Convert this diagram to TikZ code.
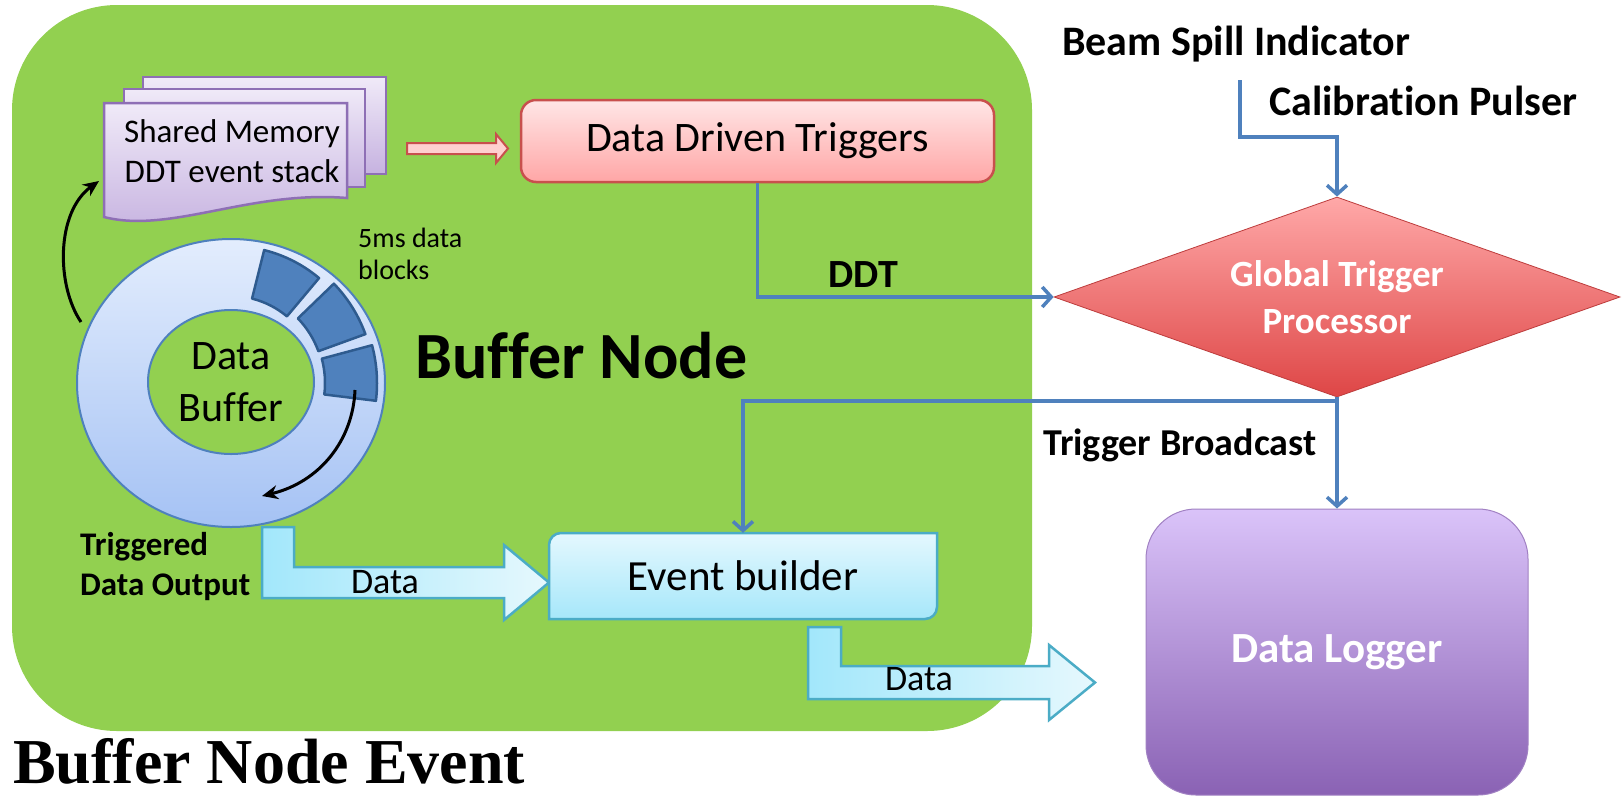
\documentclass[tikz,border=0pt]{standalone}
\usepackage{fontspec}
\setmainfont{Carlito}[Ligatures=NoCommon]
\newfontfamily\tnrfont{Liberation Serif}
\usetikzlibrary{arrows.meta,shapes.geometric}
\newcommand\fsz[2]{\fontsize{#1pt}{#2pt}\selectfont}
\definecolor{bnGreen}{HTML}{92D050}
\definecolor{smTop}{HTML}{F0EAF8}
\definecolor{smBot}{HTML}{C6B2E0}
\definecolor{smBorder}{HTML}{8E6FB5}
\definecolor{pinkFill}{HTML}{FFD0D0}
\definecolor{redBorder}{HTML}{C8504D}
\definecolor{ddtTop}{HTML}{FFE6E6}
\definecolor{ddtBot}{HTML}{FFA6A6}
\definecolor{blueLine}{HTML}{4F81BD}
\definecolor{gtpTop}{HTML}{FFA8A8}
\definecolor{gtpBot}{HTML}{DE4646}
\definecolor{ebTop}{HTML}{E4F8FE}
\definecolor{ebBot}{HTML}{A6E7FA}
\definecolor{ebBorder}{HTML}{4BACC6}
\definecolor{arL}{HTML}{A2E7FB}
\definecolor{arR}{HTML}{E6F8FD}
\definecolor{dlTop}{HTML}{DAC3F9}
\definecolor{dlBot}{HTML}{8A62B4}
\definecolor{ringTop}{HTML}{E3EDFD}
\definecolor{ringBot}{HTML}{A5C2F4}
\definecolor{blkFill}{HTML}{4F81BD}
\definecolor{blkBorder}{HTML}{2E5B8F}
\begin{document}
\begin{tikzpicture}[x=1pt,y=-1pt,
  lbl/.style={inner sep=0pt, anchor=base},
  lblw/.style={inner sep=0pt, anchor=base west},
  smpage/.style={top color=smTop, bottom color=smBot, draw=smBorder, line width=2.5pt},
  pinkarrow/.style={fill=pinkFill, draw=redBorder, line width=2pt},
  ddtbox/.style={rectangle, rounded corners=15pt, minimum width=473pt, minimum height=82pt,
    top color=ddtTop, bottom color=ddtBot, draw=redBorder, line width=2.5pt, inner sep=0pt},
  gtpbox/.style={diamond, aspect=2.83, minimum width=566pt, minimum height=200pt, inner sep=0pt,
    top color=gtpTop, bottom color=gtpBot, draw=gtpBot!85!black, line width=0.8pt,
    text=white, align=center, font=\bfseries\fsz{37}{47}},
  ebshape/.style={top color=ebTop, bottom color=ebBot, draw=ebBorder, line width=2.5pt},
  dlbox/.style={rectangle, rounded corners=50pt, minimum width=382pt, minimum height=286pt,
    top color=dlTop, bottom color=dlBot, draw=dlBot!80!white, line width=1pt,
    text=white, font=\bfseries\fsz{43}{50}},
  datarrow/.style={left color=arL, right color=arR, draw=ebBorder, line width=2.5pt},
  ringstyle/.style={ellipse, minimum width=308pt, minimum height=288pt, inner sep=0pt,
    top color=ringTop, bottom color=ringBot, draw=blueLine, line width=2pt},
  holestyle/.style={ellipse, minimum width=166pt, minimum height=144pt, inner sep=0pt,
    fill=bnGreen, draw=blueLine, line width=2pt, align=center, font=\fsz{42}{52}},
  blk/.style={fill=blkFill, draw=blkBorder, line width=2.5pt, line join=round},
  blkarrow/.style={draw=black, line width=3pt, -{Stealth[length=16pt,width=14pt]}},
  blueline/.style={draw=blueLine, line width=3.5pt, -{Straight Barb[length=9pt,width=20pt]}}
]
\useasboundingbox (0,0) rectangle (1624,796);
\fill[white] (0,0) rectangle (1624,796);

% green buffer node area
\fill[bnGreen, rounded corners=105pt] (12,5) rectangle (1032,731);

% shared memory stack
\filldraw[smpage] (143,77) rectangle (386,174);
\filldraw[smpage] (124,89) rectangle (365,187);
\filldraw[smpage] (104,217) -- (104,103) -- (347,103) -- (347,198)
  .. controls (250,190) and (170,234) .. (104,217) -- cycle;
\node[lbl] (sm1) at (232,142) {\fsz{33}{40}Shared Memory};
\node[lbl] (sm2) at (232,182) {\fsz{33}{40}DDT event stack};

% pink block arrow
\filldraw[pinkarrow] (407,143) -- (496,143) -- (496,134) -- (508,148.5) -- (496,163)
  -- (496,154) -- (407,154) -- cycle;

% Data Driven Triggers
\node[ddtbox] (ddt) at (757.5,141) {\fsz{42}{48}Data Driven Triggers};

% data buffer ring
\node[ringstyle] (ring) at (231,383) {};
\filldraw[blk] (231,383) ++(-50:87) arc[start angle=-50,end angle=-76,radius=87]
  -- ++(-76:50) arc[start angle=-76,end angle=-50,radius=137] -- cycle;
\filldraw[blk] (231,383) ++(-20:93) arc[start angle=-20,end angle=-44,radius=93]
  -- ++(-44:50) arc[start angle=-44,end angle=-20,radius=143] -- cycle;
\filldraw[blk] (231,383) ++(7:94) arc[start angle=7,end angle=-15,radius=94]
  -- ++(-15:52) arc[start angle=-15,end angle=7,radius=146] -- cycle;
\node[holestyle] (buf) at (231,382) {Data\\Buffer};

% black arrows
\coordinate (ra) at (355,390);
\coordinate (rb) at (262,496);
\draw[blkarrow] (ra) .. controls (353,440) and (320,482) .. (rb);
\coordinate (ua) at (81,322);
\coordinate (ub) at (99,181);
\draw[blkarrow] (ua) .. controls (56,285) and (56,212) .. (ub);

\node[lblw] (ms1) at (358,247) {\fsz{28}{34}5ms data};
\node[lblw] (ms2) at (358,279) {\fsz{28}{34}blocks};

\node[lblw] (bn) at (415,378) {\bfseries\fsz{66}{72}Buffer Node};

\node[lblw] (tdo1) at (80,555) {\bfseries\fsz{33}{40}Triggered};
\node[lblw] (tdo2) at (80,595) {\bfseries\fsz{33}{40}Data Output};

% data arrows
\filldraw[datarrow] (262,527) -- (294,527) -- (294,567) -- (504,567) -- (504,545)
  -- (549,582.5) -- (504,620) -- (504,598) -- (262,598) -- cycle;
\node[lbl] (d1) at (385,593) {\fsz{36}{42}Data};
\filldraw[datarrow] (808,627) -- (841,627) -- (841,666) -- (1049,666) -- (1049,645)
  -- (1095,682.5) -- (1049,720) -- (1049,699) -- (808,699) -- cycle;
\node[lbl] (d2) at (919,690) {\fsz{36}{42}Data};

% event builder
\filldraw[ebshape] (549,619) -- (549,545) arc[start angle=180,end angle=270,radius=12]
  -- (937,533) -- (937,607) arc[start angle=0,end angle=90,radius=12] -- cycle;
\node[inner sep=0pt, minimum width=388pt, minimum height=86pt] (eb) at (743,576)
  {\fsz{43}{50}Event builder};

% global trigger processor
\node[gtpbox] (gtp) at (1337,297) {Global Trigger\\Processor};

% data logger
\node[dlbox] (dl) at (1337,652) {Data Logger};

% top labels
\node[lblw] (bsi) at (1062,55) {\bfseries\fsz{42}{50}Beam Spill Indicator};
\node[lblw] (cal) at (1269,115) {\bfseries\fsz{42}{50}Calibration Pulser};
\node[lbl] (ddtl) at (863,287) {\bfseries\fsz{40}{48}DDT};
\node[lblw] (tbl) at (1043,455) {\bfseries\fsz{38}{44}Trigger Broadcast};

% blue connectors
\coordinate (bsa) at (1240,80);
\draw[blueline] (bsa) -- (1240,137) -| (gtp.north);
\draw[blueline] (ddt.south) |- (gtp.west);
\coordinate (tb) at (1337,401);
\draw[blueline] (gtp.south) -- (dl.north);
\draw[blueline] (tb) -| (eb.north);

% title
\node[lblw] (title) at (13,783) {\tnrfont\bfseries\fsz{64}{70}Buffer Node Event};
\end{tikzpicture}
\end{document}
